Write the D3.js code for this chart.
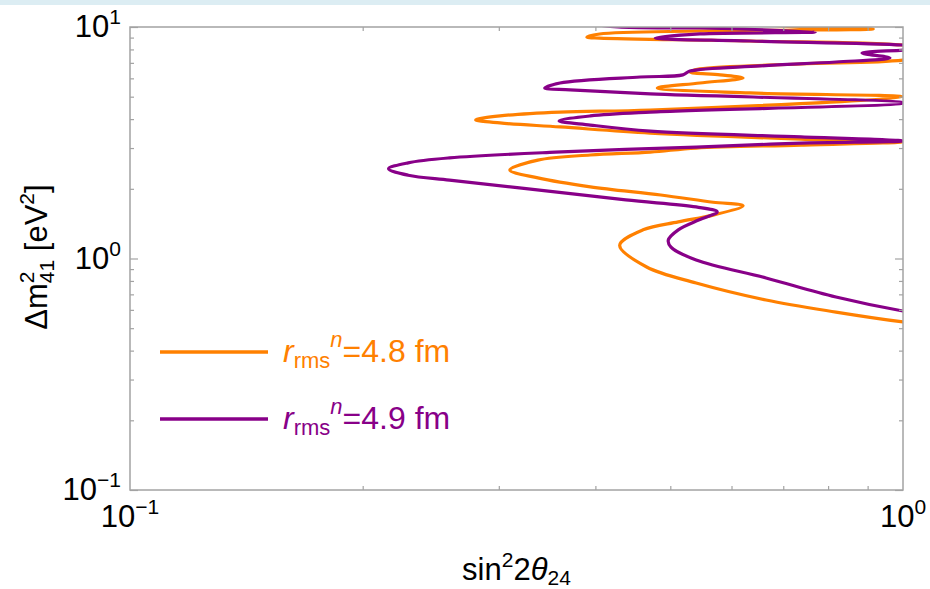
<!DOCTYPE html>
<html>
<head>
<meta charset="utf-8">
<script src="https://cdn.jsdelivr.net/npm/d3@7"></script>
<style>
  body { margin: 0; background: #fff; }
  svg text { font-family: "Liberation Sans", Arial, Helvetica, sans-serif; }
</style>
</head>
<body>
<div id="chart"></div>
<script>
// contour 1: r_rms^n = 4.8 fm (bottom to top)
var orangeS = [1.12, 1.0, 0.819, 0.665, 0.540, 0.466, 0.430, 0.461, 0.512, 0.568, 0.621,
  0.568, 0.486, 0.394, 0.337, 0.310, 0.337, 0.394, 0.471, 0.540, 0.738, 1.0,
  0.738, 0.471, 0.360, 0.301, 0.280, 0.301, 0.360, 0.471, 1.0,
  0.634, 0.481, 0.546, 0.621, 0.580, 0.530, 0.546, 0.736, 1.0, 1.15, 1.0,
  0.634, 0.405, 0.390, 0.405, 0.546, 0.915, 0.736, 0.60];
var orangeDm = [0.51, 0.532, 0.587, 0.662, 0.784, 0.919, 1.14, 1.33, 1.44, 1.54, 1.69,
  1.75, 1.88, 2.04, 2.23, 2.41, 2.66, 2.80, 2.88, 3.00, 3.09, 3.19,
  3.28, 3.48, 3.70, 3.85, 3.97, 4.13, 4.29, 4.38, 4.99,
  5.19, 5.45, 5.73, 6.02, 6.21, 6.39, 6.59, 6.92, 7.20, 7.8, 8.36,
  8.70, 8.96, 9.05, 9.33, 9.61, 9.80, 10.0, 10.5];

// contour 2: r_rms^n = 4.9 fm
var purpleS = [1.12, 1.0, 0.819, 0.665, 0.540, 0.501, 0.497, 0.512, 0.545, 0.575,
  0.540, 0.438, 0.319, 0.259, 0.229, 0.216, 0.229, 0.259, 0.355, 0.540, 0.738, 1.0,
  0.738, 0.471, 0.394, 0.359, 0.394, 0.471, 1.0,
  0.471, 0.371, 0.344, 0.360, 0.457, 0.519, 0.530, 0.653, 0.819, 0.962, 0.885, 1.0, 1.1, 1.0,
  0.634, 0.478, 0.546, 0.770, 0.546, 0.428, 0.38];
var purpleDm = [0.56, 0.593, 0.682, 0.824, 0.985, 1.12, 1.20, 1.33, 1.47, 1.59,
  1.67, 1.79, 2.02, 2.18, 2.29, 2.44, 2.59, 2.72, 2.88, 3.03, 3.15, 3.22,
  3.35, 3.55, 3.77, 3.93, 4.13, 4.29, 4.70,
  5.14, 5.35, 5.45, 5.73, 6.08, 6.21, 6.45, 6.79, 7.06, 7.35, 7.72, 7.95, 8.15, 8.36,
  8.70, 8.96, 9.33, 9.51, 9.90, 10.0, 10.5];

var seriesNames = ['4.8', '4.9'];
var seriesColors = ['#ff8000', '#880088'];
var xMajor = [0.1, 1];
var xMinor = [0.2, 0.3, 0.4, 0.5, 0.6, 0.7, 0.8, 0.9];
var yMajor = [0.1, 1, 10];
var yMinor = [0.2, 0.3, 0.4, 0.5, 0.6, 0.7, 0.8, 0.9, 2, 3, 4, 5, 6, 7, 8, 9];
var xExp = ['\u22121', '0'];
var yExp = ['\u22121', '0', '1'];

var W = 930, H = 589;
var plot = { left: 130, right: 903, top: 27, bottom: 490 };
var frameColor = '#a3a3a3';
var fs = 31, fsSmall = 21;

var x = d3.scaleLog().domain([0.1, 1]).range([plot.left, plot.right]);
var y = d3.scaleLog().domain([0.1, 10]).range([plot.bottom, plot.top]);

var svg = d3.select('#chart').append('svg')
  .attr('width', W).attr('height', H);

// light strip at the top of the page
svg.append('rect').attr('x', 0).attr('y', 0).attr('width', W).attr('height', 5)
  .attr('fill', '#dcedf3');

svg.append('clipPath').attr('id', 'clip')
  .append('rect')
  .attr('x', plot.left).attr('y', plot.top)
  .attr('width', plot.right - plot.left).attr('height', plot.bottom - plot.top);

// contours
var series = [
  { name: seriesNames[0], color: seriesColors[0], s: orangeS, dm: orangeDm },
  { name: seriesNames[1], color: seriesColors[1], s: purpleS, dm: purpleDm }
];
var line = d3.line()
  .x(function(d) { return x(d[0]); })
  .y(function(d) { return y(d[1]); })
  .curve(d3.curveCatmullRom.alpha(0.5));

svg.append('g').attr('clip-path', 'url(#clip)')
  .selectAll('path')
  .data(series)
  .enter()
  .append('path')
  .attr('d', function(d) { return line(d.s.map(function(v, i) { return [v, d.dm[i]]; })); })
  .attr('fill', 'none')
  .attr('stroke', function(d) { return d.color; })
  .attr('stroke-width', 3.2)
  .attr('stroke-linejoin', 'round');

// frame with inward ticks on all four sides
function tickAxis(axisFn, scale, values, size, transform) {
  svg.append('g')
    .attr('transform', transform)
    .call(axisFn(scale).tickValues(values).tickSize(-size).tickFormat(''))
    .call(function(g) {
      g.select('.domain').remove();
      g.selectAll('line').attr('stroke', frameColor).attr('stroke-width', 1.2);
    });
}
tickAxis(d3.axisBottom, x, xMinor, 4, 'translate(0,' + plot.bottom + ')');
tickAxis(d3.axisTop, x, xMinor, 4, 'translate(0,' + plot.top + ')');
tickAxis(d3.axisLeft, y, yMinor, 4, 'translate(' + plot.left + ',0)');
tickAxis(d3.axisRight, y, yMinor, 4, 'translate(' + plot.right + ',0)');
tickAxis(d3.axisLeft, y, yMajor, 8, 'translate(' + plot.left + ',0)');
tickAxis(d3.axisRight, y, yMajor, 8, 'translate(' + plot.right + ',0)');

svg.append('rect')
  .attr('x', plot.left).attr('y', plot.top)
  .attr('width', plot.right - plot.left).attr('height', plot.bottom - plot.top)
  .attr('fill', 'none').attr('stroke', frameColor).attr('stroke-width', 1.5);

// tick labels
var yLab = svg.selectAll('.ylab')
  .data(yMajor)
  .enter()
  .append('text')
  .attr('class', 'ylab')
  .attr('x', 121)
  .attr('y', function(d) { return y(d) + 10; })
  .attr('text-anchor', 'end')
  .attr('font-size', fs)
  .attr('fill', '#000');
yLab.append('tspan').text('10');
yLab.append('tspan').attr('dy', -13).attr('font-size', fsSmall)
  .text(function(d, i) { return yExp[i]; });

var xLab = svg.selectAll('.xlab')
  .data(xMajor)
  .enter()
  .append('text')
  .attr('class', 'xlab')
  .attr('x', function(d) { return x(d); })
  .attr('y', 527)
  .attr('text-anchor', 'middle')
  .attr('font-size', fs)
  .attr('fill', '#000');
xLab.append('tspan').text('10');
xLab.append('tspan').attr('dy', -13).attr('font-size', fsSmall)
  .text(function(d, i) { return xExp[i]; });

// axis titles
var xt = svg.append('text')
  .attr('x', (plot.left + plot.right) / 2).attr('y', 580)
  .attr('text-anchor', 'middle').attr('font-size', fs);
xt.append('tspan').text('sin');
xt.append('tspan').attr('dy', -13).attr('font-size', fsSmall).text('2');
xt.append('tspan').attr('dy', 13).text('2');
xt.append('tspan').attr('font-style', 'italic').text('\u03b8');
xt.append('tspan').attr('dy', 5).attr('font-size', fsSmall).text('24');

var yt = svg.append('text')
  .attr('transform', 'translate(47,257) rotate(-90)')
  .attr('text-anchor', 'middle').attr('font-size', fs);
yt.append('tspan').text('\u0394m');
yt.append('tspan').attr('dy', -13).attr('font-size', fsSmall).text('2');
yt.append('tspan').attr('dx', -11.7).attr('dy', 20).attr('font-size', fsSmall).text('41');
yt.append('tspan').attr('dy', -7).text(' [eV');
yt.append('tspan').attr('dy', -13).attr('font-size', fsSmall).text('2');
yt.append('tspan').attr('dy', 13).text(']');

// legend
var legend = svg.selectAll('.legend')
  .data(series)
  .enter()
  .append('g')
  .attr('class', 'legend')
  .attr('transform', function(d, i) { return 'translate(0,' + (352 + i * 67) + ')'; });
legend.append('line')
  .attr('x1', 160).attr('x2', 268)
  .attr('stroke', function(d) { return d.color; })
  .attr('stroke-width', 3.5);
var lt = legend.append('text')
  .attr('x', 283).attr('y', 10)
  .attr('font-size', 32)
  .attr('fill', function(d) { return d.color; });
lt.append('tspan').attr('font-style', 'italic').text('r');
lt.append('tspan').attr('dy', 6).attr('font-size', 22).text('rms');
lt.append('tspan').attr('dy', -21).attr('font-size', 22).attr('font-style', 'italic').text('n');
lt.append('tspan').attr('dy', 15).text(function(d) { return '=' + d.name + ' fm'; });
</script>
</body>
</html>
